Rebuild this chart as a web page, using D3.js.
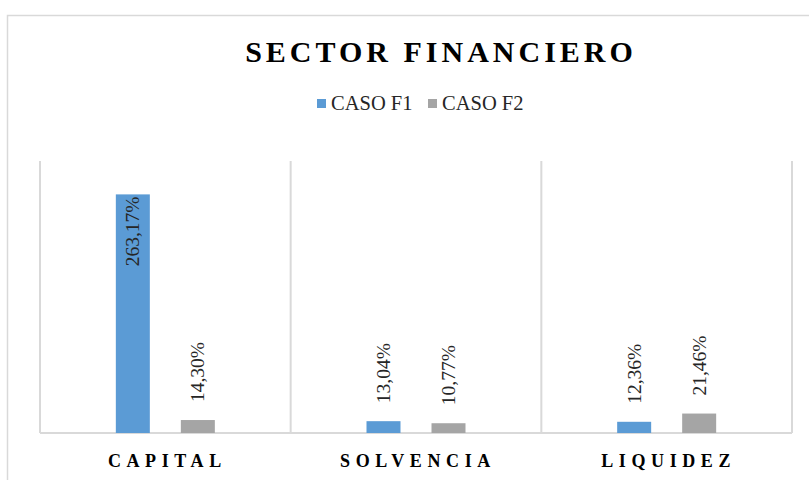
<!DOCTYPE html>
<html>
<head>
<meta charset="utf-8">
<script src="https://cdn.jsdelivr.net/npm/d3@7"></script>
</head>
<body style="margin:0">
<script>
const categories = ["CAPITAL", "SOLVENCIA", "LIQUIDEZ"];
const seriesNames = ["CASO F1", "CASO F2"];
const casoF1 = [263.17, 13.04, 12.36];
const casoF2 = [14.30, 10.77, 21.46];
const colors = ["#5b9bd5", "#a5a5a5"];

const W = 809, H = 480;
const margin = {top: 161, right: 17, bottom: 47, left: 40};
const width = W - margin.left - margin.right, height = H - margin.top - margin.bottom;

const data = categories.map((c, i) => ({cat: c, vals: [casoF1[i], casoF2[i]]}));

const svg = d3.select("body").append("svg")
    .attr("width", W).attr("height", H);

function label(sel) {
    return sel.attr("font-family", "Liberation Serif").style("font-family", "'Liberation Serif'");
}

// outer chart border
svg.append("rect")
    .attr("x", 7.5).attr("y", 15.5)
    .attr("width", W).attr("height", H)
    .attr("fill", "none").attr("stroke", "#d9d9d9").attr("stroke-width", 1.5);

// title
svg.append("text")
    .call(label)
    .attr("x", 441).attr("y", 62)
    .attr("text-anchor", "middle")
    .style("font-size", "30px").style("font-weight", "bold")
    .style("letter-spacing", "4px")
    .text("SECTOR FINANCIERO");

// legend
const legendX = [317, 428];
seriesNames.forEach(function (s, i) {
    svg.append("rect")
        .attr("x", legendX[i]).attr("y", 99)
        .attr("width", 9).attr("height", 9)
        .attr("fill", colors[i]);
    svg.append("text")
        .call(label)
        .attr("x", legendX[i] + 14).attr("y", 110)
        .style("font-size", "20.5px").style("fill", "#262626")
        .text(s);
});

const g = svg.append("g")
    .attr("transform", "translate(" + margin.left + "," + margin.top + ")");

const x0 = d3.scaleBand().domain(categories).range([0, width]);
const bw = x0.bandwidth();
const x1 = d3.scaleBand().domain(seriesNames)
    .range([bw / 2 - 49.5, bw / 2 + 49.5]).paddingInner(0.477);
const y = d3.scaleLinear().domain([0, 300]).range([height, 0]);

// category separators
g.selectAll(".sep")
    .data(d3.range(categories.length + 1))
    .enter().append("line")
    .attr("x1", d => d * bw).attr("x2", d => d * bw)
    .attr("y1", 0).attr("y2", height)
    .attr("stroke", "#d9d9d9").attr("stroke-width", 2);

// baseline axis
g.append("line")
    .attr("x1", 0).attr("x2", width)
    .attr("y1", height).attr("y2", height)
    .attr("stroke", "#d9d9d9").attr("stroke-width", 2);

const groups = g.selectAll(".grp")
    .data(data)
    .enter().append("g")
    .attr("transform", d => "translate(" + x0(d.cat) + ",0)");

groups.selectAll("rect")
    .data(d => d.vals.map((v, i) => ({s: seriesNames[i], v: v, i: i})))
    .enter().append("rect")
    .attr("x", d => x1(d.s))
    .attr("width", x1.bandwidth())
    .attr("y", d => y(d.v))
    .attr("height", d => height - y(d.v))
    .attr("fill", d => colors[d.i]);

const fmt = v => v.toFixed(2).replace(".", ",") + "%";

groups.selectAll(".lbl")
    .data(d => d.vals.map((v, i) => ({s: seriesNames[i], v: v, i: i})))
    .enter().append("text")
    .call(label)
    .attr("transform", function (d) {
        const cx = x1(d.s) + x1.bandwidth() / 2;
        const inside = d.v > 100;
        const yy = inside ? y(d.v) + 2 : y(d.v) - 18;
        return "translate(" + cx + "," + yy + ") rotate(-90)";
    })
    .attr("text-anchor", d => d.v > 100 ? "end" : "start")
    .attr("dominant-baseline", "central")
    .style("font-size", "19.5px").style("fill", "#262626")
    .text(d => fmt(d.v));

// category labels
g.selectAll(".cat")
    .data(categories)
    .enter().append("text")
    .call(label)
    .attr("x", d => x0(d) + bw / 2 + 2)
    .attr("y", height + 34)
    .attr("text-anchor", "middle")
    .style("font-size", "18px").style("font-weight", "bold")
    .style("letter-spacing", "5.6px")
    .text(d => d);
</script>
</body>
</html>
